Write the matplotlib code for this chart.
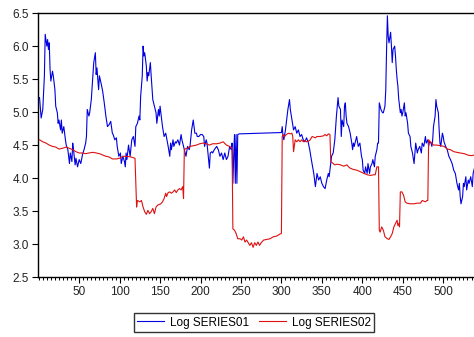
import matplotlib.pyplot as plt
from matplotlib.ticker import MultipleLocator

s1_obs = [1, 3, 5, 7, 8, 10, 11, 12, 13, 14, 15, 17, 18, 20, 21, 23, 24, 25, 27, 28,
          29, 31, 33, 34, 36, 38, 39, 41, 42, 43, 45, 46, 48, 50, 52, 54, 56, 58, 59, 60,
          62, 63, 65, 67, 68, 70, 71, 72, 74, 75, 77, 79, 81, 83, 85, 87, 89, 91, 92, 94,
          96, 97, 99, 101, 102, 104, 106, 107, 108, 109, 111, 113, 115, 117, 119, 120, 122, 124, 125, 126,
          128, 129, 130, 131, 133, 134, 135, 136, 138, 139, 141, 143, 145, 146, 148, 149, 150, 152, 153, 155,
          157, 160, 162, 163, 164, 166, 167, 169, 170, 172, 174, 176, 177, 179, 181, 182, 184, 186, 187, 189,
          191, 192, 193, 195, 196, 198, 200, 202, 204, 205, 207, 208, 210, 211, 212, 214, 215, 217, 220, 222,
          224, 226, 228, 230, 232, 234, 236, 238, 239, 240, 241, 242, 243, 244, 245, 246, 248, 300, 301, 302,
          303, 305, 306, 308, 310, 311, 313, 314, 315, 317, 319, 321, 323, 325, 327, 329, 331, 333, 335, 337,
          340, 342, 344, 346, 348, 350, 352, 354, 356, 358, 359, 361, 362, 364, 366, 368, 370, 371, 373, 374,
          375, 377, 378, 379, 380, 381, 383, 385, 387, 388, 389, 390, 392, 393, 395, 397, 399, 400, 401, 403,
          404, 406, 407, 409, 410, 412, 413, 415, 416, 418, 419, 420, 421, 423, 425, 426, 428, 429, 430, 431,
          432, 433, 435, 436, 437, 438, 440, 441, 442, 443, 444, 445, 447, 448, 449, 450, 452, 453, 454, 456,
          457, 459, 460, 462, 464, 465, 466, 468, 469, 471, 473, 474, 476, 478, 479, 481, 482, 483, 485, 486,
          487, 488, 490, 491, 492, 494, 495, 496, 497, 499, 500, 501, 503, 505, 507, 509, 511, 513, 515, 517,
          519, 520, 521, 522, 524, 525, 526, 528, 529, 531, 532, 534, 536, 537, 539, 540]
s1_val = [5.22, 4.91, 5.04, 5.55, 6.18, 6.00, 6.10, 5.95, 6.05, 5.65, 5.47, 5.62, 5.55, 5.34, 5.09, 4.99, 4.83, 4.88, 4.73, 4.88,
          4.68, 4.78, 4.58, 4.50, 4.43, 4.22, 4.38, 4.25, 4.53, 4.43, 4.20, 4.30, 4.17, 4.28, 4.22, 4.35, 4.43, 4.53, 4.63, 5.04,
          4.94, 4.99, 5.19, 5.55, 5.75, 5.90, 5.57, 5.67, 5.34, 5.55, 5.44, 5.32, 5.14, 4.94, 4.78, 4.81, 4.86, 4.68, 4.66, 4.58,
          4.61, 4.48, 4.33, 4.38, 4.22, 4.33, 4.25, 4.17, 4.38, 4.28, 4.50, 4.33, 4.58, 4.63, 4.48, 4.78, 4.83, 4.94, 4.88, 5.24,
          5.55, 6.00, 5.85, 5.90, 5.70, 5.47, 5.60, 5.55, 5.75, 5.55, 5.19, 5.09, 4.99, 4.83, 5.04, 4.94, 5.09, 4.88, 4.78, 4.63,
          4.68, 4.48, 4.33, 4.53, 4.43, 4.58, 4.48, 4.55, 4.53, 4.58, 4.50, 4.66, 4.58, 4.48, 4.38, 4.33, 4.48, 4.43, 4.48, 4.73,
          4.88, 4.78, 4.68, 4.68, 4.63, 4.63, 4.66, 4.66, 4.63, 4.48, 4.58, 4.53, 4.28, 4.15, 4.38, 4.40, 4.38, 4.43, 4.48, 4.43,
          4.33, 4.38, 4.28, 4.38, 4.28, 4.33, 4.48, 4.43, 4.53, 3.92, 4.33, 4.66, 3.92, 4.66, 3.92, 4.66, 4.67, 4.69, 4.78, 4.63,
          4.58, 4.73, 4.83, 5.04, 5.19, 5.04, 4.88, 4.81, 4.73, 4.78, 4.68, 4.73, 4.63, 4.66, 4.58, 4.55, 4.61, 4.55, 4.43, 4.28,
          4.07, 3.87, 4.07, 3.97, 4.02, 3.92, 3.87, 3.84, 3.97, 4.07, 4.02, 4.22, 4.33, 4.38, 4.58, 4.94, 5.22, 5.09, 5.04, 4.63,
          4.88, 4.78, 5.09, 5.14, 4.94, 4.83, 4.78, 4.68, 4.53, 4.43, 4.53, 4.48, 4.58, 4.63, 4.48, 4.53, 4.33, 4.28, 4.12, 4.07,
          4.17, 4.07, 4.22, 4.07, 4.17, 4.22, 4.28, 4.17, 4.33, 4.43, 4.53, 4.53, 5.14, 5.04, 4.99, 4.99, 5.09, 5.34, 5.95, 6.46,
          6.15, 6.05, 6.21, 6.00, 5.75, 5.95, 6.00, 5.85, 5.65, 5.50, 5.39, 5.20, 4.99, 5.04, 4.94, 4.99, 5.14, 4.94, 4.99, 4.83,
          4.68, 4.63, 4.48, 4.38, 4.22, 4.38, 4.53, 4.38, 4.43, 4.48, 4.38, 4.53, 4.48, 4.63, 4.53, 4.58, 4.48, 4.55, 4.53, 4.48,
          4.58, 4.78, 4.94, 5.19, 5.09, 4.99, 4.73, 4.53, 4.48, 4.68, 4.63, 4.55, 4.48, 4.43, 4.33, 4.28, 4.22, 4.12, 4.07, 3.92,
          3.82, 3.92, 3.72, 3.61, 3.72, 3.92, 3.87, 4.02, 3.82, 3.97, 3.92, 4.02, 3.87, 4.07, 4.17, 4.22]

# Log SERIES02
s2_obs = [1, 5, 9, 13, 17, 21, 25, 29, 34, 38, 42, 46, 50, 54, 58, 62, 67, 71, 75, 79,
          83, 87, 91, 96, 100, 104, 108, 114, 119, 120, 121, 122, 125, 127, 129, 131, 133, 135, 137, 139,
          141, 143, 145, 147, 149, 151, 153, 155, 157, 158, 160, 162, 164, 166, 168, 170, 172, 174, 176, 178,
          179, 180, 182, 184, 187, 191, 195, 199, 203, 207, 211, 215, 220, 224, 228, 232, 236, 239, 240, 242,
          244, 246, 249, 251, 253, 255, 257, 259, 261, 263, 265, 267, 269, 271, 273, 275, 278, 282, 286, 290,
          294, 298, 300, 301, 302, 304, 306, 309, 311, 313, 314, 315, 317, 319, 321, 323, 325, 327, 329, 331,
          335, 338, 342, 344, 348, 352, 354, 356, 358, 360, 361, 364, 366, 369, 373, 377, 381, 383, 385, 389,
          393, 397, 402, 406, 410, 414, 416, 418, 420, 421, 422, 424, 426, 428, 431, 433, 435, 437, 439, 441,
          443, 444, 445, 446, 447, 449, 451, 453, 455, 459, 464, 468, 472, 474, 476, 478, 480, 481, 482, 484,
          486, 488, 492, 497, 501, 505, 509, 513, 517, 521, 526, 530, 534, 540]
s2_val = [4.58, 4.55, 4.53, 4.50, 4.48, 4.47, 4.44, 4.45, 4.47, 4.45, 4.43, 4.40, 4.38, 4.38, 4.37, 4.38, 4.39, 4.38, 4.37, 4.35,
          4.33, 4.32, 4.29, 4.29, 4.30, 4.33, 4.33, 4.32, 4.30, 3.95, 3.56, 3.66, 3.64, 3.66, 3.56, 3.49, 3.45, 3.51, 3.46, 3.49,
          3.54, 3.46, 3.56, 3.59, 3.60, 3.61, 3.64, 3.69, 3.77, 3.72, 3.78, 3.79, 3.77, 3.79, 3.82, 3.78, 3.82, 3.84, 3.82, 3.87,
          3.69, 4.43, 4.45, 4.45, 4.48, 4.49, 4.50, 4.52, 4.53, 4.52, 4.50, 4.52, 4.52, 4.53, 4.55, 4.50, 4.48, 4.45, 3.23, 3.21,
          3.16, 3.08, 3.08, 3.06, 3.11, 3.03, 3.06, 3.02, 2.98, 3.02, 2.95, 3.02, 2.98, 3.03, 2.98, 3.02, 3.06, 3.07, 3.08, 3.11,
          3.12, 3.15, 3.16, 4.63, 4.66, 4.63, 4.66, 4.68, 4.67, 4.68, 4.63, 4.40, 4.58, 4.55, 4.58, 4.55, 4.58, 4.55, 4.57, 4.55,
          4.57, 4.63, 4.61, 4.63, 4.63, 4.64, 4.66, 4.64, 4.67, 4.66, 4.25, 4.22, 4.20, 4.21, 4.20, 4.18, 4.20, 4.17, 4.15, 4.13,
          4.12, 4.10, 4.07, 4.05, 4.04, 4.05, 4.05, 4.17, 4.17, 3.21, 3.18, 3.26, 3.21, 3.11, 3.08, 3.07, 3.11, 3.16, 3.26, 3.31,
          3.36, 3.28, 3.31, 3.26, 3.79, 3.79, 3.74, 3.64, 3.62, 3.61, 3.61, 3.62, 3.62, 3.66, 3.65, 3.64, 3.66, 3.66, 4.58, 4.55,
          4.53, 4.50, 4.50, 4.49, 4.48, 4.44, 4.43, 4.40, 4.39, 4.38, 4.37, 4.35, 4.34, 4.35]

x_ticks = [50, 100, 150, 200, 250, 300, 350, 400, 450, 500]
y_ticks = [2.5, 3.0, 3.5, 4.0, 4.5, 5.0, 5.5, 6.0, 6.5]

plt.rcParams["font.family"] = ["Liberation Sans", "DejaVu Sans"]

fig = plt.figure(figsize=(4.74, 3.37), dpi=100)
ax = fig.add_axes([0.080, 0.178, 0.925, 0.783])

ax.plot(s1_obs, s1_val, color="#0000e0", linewidth=0.8, label="Log SERIES01")
ax.plot(s2_obs, s2_val, color="#dd1111", linewidth=0.8, label="Log SERIES02")

ax.set_xlim(-1, 541)
ax.set_ylim(2.5, 6.5)
ax.set_xticks(x_ticks)
ax.xaxis.set_minor_locator(MultipleLocator(5))
ax.set_yticks(y_ticks)
ax.set_yticklabels([f"{v:.1f}" for v in y_ticks])

ax.spines["right"].set_visible(False)
for s in ["left", "top", "bottom"]:
    ax.spines[s].set_linewidth(1.0)
    ax.spines[s].set_color("black")

ax.tick_params(axis="both", which="major", length=4.5, width=0.8, labelsize=8.5,
               labelcolor="#222222", pad=2)
ax.tick_params(axis="x", which="minor", length=2.5, width=0.7)

fig.legend(loc="center", bbox_to_anchor=(0.536, 0.043), ncol=2, fontsize=8.5,
           frameon=True, fancybox=False, edgecolor="black", handlelength=2.3,
           handletextpad=0.5, columnspacing=0.8, borderpad=0.3)

fig.savefig("out.png", dpi=100)
